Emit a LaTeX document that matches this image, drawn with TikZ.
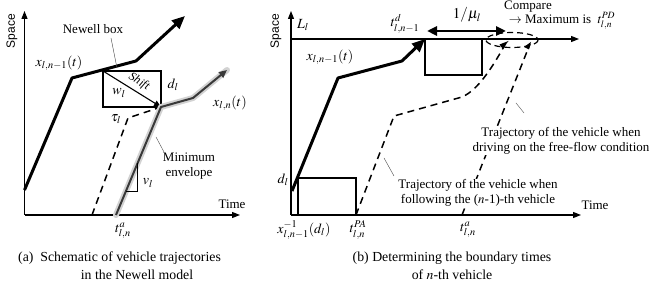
\documentclass[tikz,border=0pt]{standalone}
\usepackage{mathptmx}
\usepackage[no-math]{fontspec}
\setmainfont{Liberation Serif}
\setsansfont{Liberation Sans}
\usetikzlibrary{arrows.meta,calc}
\begin{document}
\begin{tikzpicture}[x=1pt,y=-1pt,
  txt/.style={font=\fontsize{13}{15}\selectfont, inner sep=1pt},
  mtxt/.style={font=\fontsize{14}{16}\selectfont, inner sep=1pt},
  captxt/.style={font=\fontsize{13.8}{16}\selectfont, inner sep=1pt},
  wtxt/.style={txt, fill=white, align=center, inner sep=0.5pt},
  spacelbl/.style={font=\sffamily\fontsize{12}{14}\selectfont, rotate=90, inner sep=0pt},
  axisline/.style={line width=1.3pt,-{Triangle[length=8pt,width=6pt]}},
  traj/.style={line width=3pt, line join=round, -{Triangle[length=13pt,width=11pt]}},
  boxline/.style={line width=1.2pt},
  dtraj/.style={line width=1.5pt, dash pattern=on 7pt off 5pt},
  leaderline/.style={line width=0.4pt, gray!60!black},
  halo/.style={line width=6pt, gray!35, line cap=round, line join=round},
  envel/.style={line width=2pt, gray!45!black, line join=round, -{Triangle[length=8pt,width=7pt]}},
]
\useasboundingbox (0,0) rectangle (654,288);

% ================= (a) =================
\coordinate (aO) at (24.5,215);
\coordinate (aY) at (24.5,11);
\coordinate (aX) at (240,215);
\draw[axisline] (aO) -- (aY);
\draw[axisline] (aO) -- (aX);
\node[spacelbl] (aSpace) at (12,31) {Space};
\node[txt] (aTime) at (232,204) {Time};

% leader trajectory
\coordinate (aL1) at (24.5,190);
\coordinate (aL2) at (72,78);
\coordinate (aL3) at (136,61);
\coordinate (aL4) at (185,16);
\draw[traj] (aL1) -- (aL2) -- (aL3) -- (aL4);
\node[mtxt] (aLlab) at (59,63) {$x_{l,n-1}(t)$};

% Newell box
\coordinate (aB1) at (103,71);
\coordinate (aB2) at (161,107);
\draw[boxline] (aB1) rectangle (aB2);
\draw[line width=1.1pt, -{Triangle[length=7pt,width=6pt]}] (aB1) -- (aB2);
\node[rotate=-31.5, font=\itshape\fontsize{12}{14}\selectfont, inner sep=0pt] (aShift) at (139,82) {Shift};
\node[mtxt] (aw) at (119,93) {$w_l$};
\node[mtxt] (ad) at (173,85) {$d_l$};
\node[mtxt] (atau) at (116,119) {$\tau_l$};
\node[txt] (aNB) at (93,29) {Newell box};
\coordinate (aNBa) at (111,38);
\coordinate (aNBb) at (117,68);
\draw[leaderline] (aNBa) -- (aNBb);

% dashed shifted trajectory
\coordinate (aD0) at (92,215);
\coordinate (aD1) at (128,118);
\draw[dtraj] (aD0) -- (aD1) -- (aB2);

% minimum envelope (follower)
\coordinate (aG0) at (116,215);
\coordinate (aG1) at (161,107);
\coordinate (aG2) at (193,98);
\coordinate (aG3) at (227,70);
\draw[halo] (aG0) -- (aG1) -- (aG2) -- (aG3);
\draw[envel] (aG0) -- (aG1) -- (aG2) -- (aG3);
\node[mtxt] (aFlab) at (230,103) {$x_{l,n}(t)$};

% slope triangle
\coordinate (aT1) at (137.7,163);
\coordinate (aT2) at (137.7,191);
\coordinate (aT3) at (126,191);
\draw[line width=0.8pt] (aT1) -- (aT2) -- (aT3);
\node[mtxt] (av) at (148,183) {$v_l$};

\node[txt, align=center] (aME) at (189,166) {Minimum\\envelope};
\coordinate (aMEa) at (156,137);
\coordinate (aMEb) at (164,152);
\draw[leaderline] (aMEa) -- (aMEb);

\node[mtxt] (ata) at (123,231) {$t^{a}_{l,n}$};

\node[captxt, anchor=west] (acap1) at (17,258) {(a)\ \ Schematic of vehicle trajectories};
\node[captxt] (acap2) at (137,275) {in the Newell model};

% ================= (b) =================
\coordinate (bO) at (291,215);
\coordinate (bY) at (291,11);
\coordinate (bX) at (581,215);
\draw[axisline] (bO) -- (bY);
\draw[axisline] (bO) -- (bX);
\node[spacelbl] (bSpace) at (276,31) {Space};
\node[txt] (bTime) at (595,205) {Time};

% L_l line
\coordinate (bLa) at (291,39);
\coordinate (bLb) at (579,39);
\draw[line width=1.2pt,-{Triangle[length=8pt,width=6pt]}] (bLa) -- (bLb);
\node[mtxt] (bLl) at (303,25) {$L_l$};
\node[mtxt] (btd) at (405,24) {$t^{d}_{l,n-1}$};

% top box
\coordinate (bTB1) at (425,39);
\coordinate (bTB2) at (482,75);
\draw[boxline] (bTB1) rectangle (bTB2);

% bottom box
\coordinate (bBB1) at (298,178);
\coordinate (bBB2) at (356,215);
\draw[boxline] (bBB1) rectangle (bBB2);

% dashed trajectories
\coordinate (bD1a) at (394,116);
\coordinate (bD1b) at (462,97);
\coordinate (bD1e) at (506,43);
\draw[dtraj] (bBB2) -- (bD1a) -- (bD1b) .. controls (478,90) and (492,68) .. (bD1e);
\coordinate (bD2s) at (462,215);
\coordinate (bD2e) at (530,44);
\draw[dtraj] (bD2s) -- (bD2e);
\fill ($(bD1e)+(2.5,-2)$) -- ++(-9,3.5) -- ++(3,4) -- cycle;
\fill ($(bD2e)+(1,-2)$) -- ++(-7,5) -- ++(5,2.5) -- cycle;

% ellipse
\coordinate (bEc) at (512,40);
\draw[line width=1.2pt, dash pattern=on 6pt off 4pt] (bEc) ellipse [x radius=26, y radius=7.5];

% leader trajectory
\coordinate (bL1) at (292,191);
\coordinate (bL2) at (338,78);
\coordinate (bL3) at (402,61);
\draw[traj] (bL1) -- (bL2) -- (bL3) -- (bTB1);
\node[mtxt] (bLlab) at (330,57) {$x_{l,n-1}(t)$};

% 1/mu double arrow
\coordinate (bMa) at (427,31);
\coordinate (bMb) at (506,31);
\draw[line width=2.5pt, {Triangle[length=10pt,width=9pt]}-{Triangle[length=10pt,width=9pt]}] (bMa) -- (bMb);
\node[font=\fontsize{15}{17}\selectfont, inner sep=0pt] (bmu) at (467,15) {$1/\mu_l$};
\node[txt, inner sep=0pt] (bcmp) at (528,6.5) {Compare};
\node[txt, inner sep=0pt] (bmax) at (562,21) {$\rightarrow$ Maximum is \ $t^{PD}_{l,n}$};

% labels with white background
\node[wtxt] (bFF) at (561,141) {Trajectory of the vehicle when\\driving on the free-flow condition};
\coordinate (bFFa) at (516,103);
\coordinate (bFFb) at (524,113);
\draw[leaderline] (bFFa) -- (bFFb);
\node[wtxt] (bFol) at (478,193) {Trajectory of the vehicle when\\following the ($n$-1)-th vehicle};
\coordinate (bFola) at (384,158);
\coordinate (bFolb) at (394,176);
\draw[leaderline] (bFola) -- (bFolb);

\node[mtxt] (bdl) at (283,180) {$d_l$};
\node[mtxt] (bxinv) at (304,230) {$x^{-1}_{l,n-1}(d_l)$};
\node[mtxt] (btpa) at (358,230) {$t^{PA}_{l,n}$};
\node[mtxt] (bta) at (468,230) {$t^{a}_{l,n}$};

\node[captxt] (bcap1) at (452,258) {(b) Determining the boundary times};
\node[captxt] (bcap2) at (452,275) {of $n$-th vehicle};
\end{tikzpicture}
\end{document}
